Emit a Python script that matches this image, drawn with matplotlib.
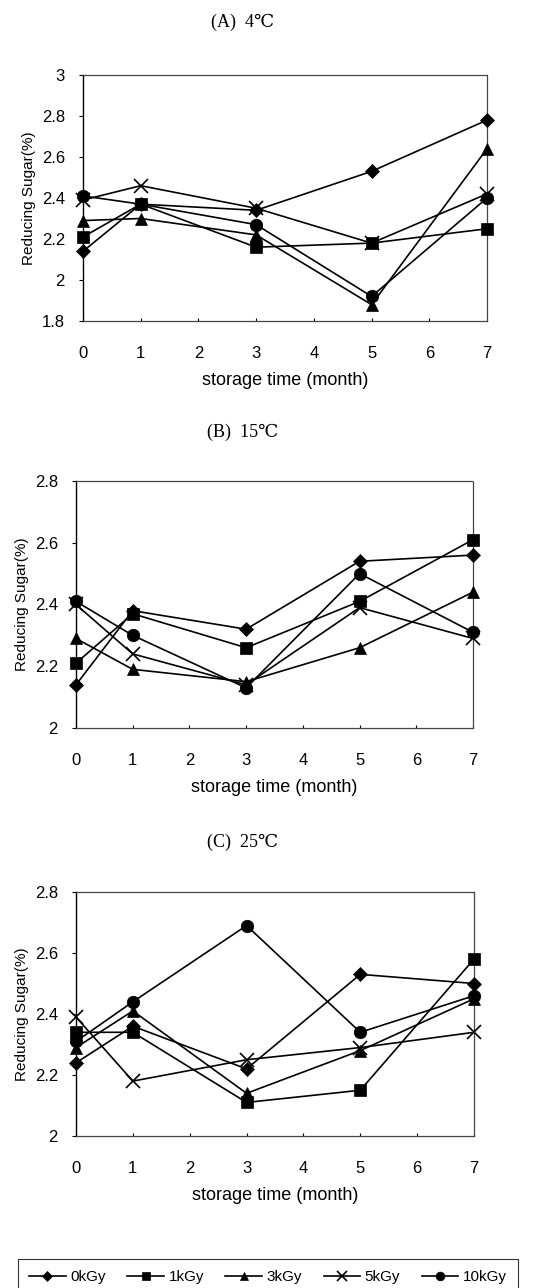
import matplotlib
matplotlib.use("Agg")
import matplotlib.pyplot as plt
from matplotlib.ticker import FuncFormatter

months = [0, 1, 3, 5, 7]
doses = ['0kGy', '1kGy', '3kGy', '5kGy', '10kGy']

# (A) 4 C
a_0kgy = [2.14, 2.37, 2.34, 2.53, 2.78]
a_1kgy = [2.21, 2.37, 2.16, 2.18, 2.25]
a_3kgy = [2.29, 2.30, 2.22, 1.88, 2.64]
a_5kgy = [2.39, 2.46, 2.35, 2.18, 2.42]
a_10kgy = [2.41, 2.37, 2.27, 1.92, 2.40]

# (B) 15 C
b_0kgy = [2.14, 2.38, 2.32, 2.54, 2.56]
b_1kgy = [2.21, 2.37, 2.26, 2.41, 2.61]
b_3kgy = [2.29, 2.19, 2.15, 2.26, 2.44]
b_5kgy = [2.40, 2.24, 2.14, 2.39, 2.29]
b_10kgy = [2.41, 2.30, 2.13, 2.50, 2.31]

# (C) 25 C
c_0kgy = [2.24, 2.36, 2.22, 2.53, 2.50]
c_1kgy = [2.34, 2.34, 2.11, 2.15, 2.58]
c_3kgy = [2.29, 2.41, 2.14, 2.28, 2.45]
c_5kgy = [2.39, 2.18, 2.25, 2.29, 2.34]
c_10kgy = [2.31, 2.44, 2.69, 2.34, 2.46]

panels = [
    ('(A)  4\u2103', [a_0kgy, a_1kgy, a_3kgy, a_5kgy, a_10kgy], (1.8, 3.0)),
    ('(B)  15\u2103', [b_0kgy, b_1kgy, b_3kgy, b_5kgy, b_10kgy], (2.0, 2.8)),
    ('(C)  25\u2103', [c_0kgy, c_1kgy, c_3kgy, c_5kgy, c_10kgy], (2.0, 2.8)),
]

# pixel boxes (left, right, top, bottom) and title y
W, H = 539, 1288
boxes = [(83, 487, 75, 321, 22), (76, 473, 481, 728, 432), (76, 474, 892, 1136, 842)]

markers = [('D', 7), ('s', 9), ('^', 9), ('x', 10), ('o', 9)]

fig = plt.figure(figsize=(W / 100, H / 100), dpi=100)

sans = ['Liberation Sans', 'DejaVu Sans']
serif = ['Liberation Serif', 'DejaVu Serif']

handles = []
for (title, series, ylim), (l, r, t, b, ty) in zip(panels, boxes):
    ax = fig.add_axes([l / W, 1 - b / H, (r - l) / W, (b - t) / H])
    for vals, (m, ms), name in zip(series, markers, doses):
        h, = ax.plot(months, vals, color='black', lw=1.2, marker=m, ms=ms,
                     mew=1.2 if m == 'x' else 0.5, mfc='black', mec='black',
                     label=name, clip_on=False, zorder=3)
        if len(handles) < 5:
            handles.append(h)
    ax.set_xlim(0, 7)
    ax.set_ylim(*ylim)
    ax.set_xticks(range(8))
    ax.set_yticks([round(ylim[0] + 0.2 * i, 1) for i in range(int(round((ylim[1] - ylim[0]) / 0.2)) + 1)])
    ax.yaxis.set_major_formatter(FuncFormatter(lambda v, p: '%g' % round(v, 1)))
    for s in ['top', 'right', 'bottom']:
        ax.spines[s].set_linestyle((0, (2, 1)))
        ax.spines[s].set_color('#444444')
        ax.spines[s].set_linewidth(0.9)
    ax.spines['left'].set_linewidth(1.0)
    ax.tick_params(axis='y', direction='out', length=3, labelsize=12, pad=10)
    ax.tick_params(axis='x', direction='in', length=2, labelsize=12, pad=18)
    for lab in ax.get_xticklabels() + ax.get_yticklabels():
        lab.set_family(sans)
    ax.set_xlabel('storage time (month)', fontsize=13, family=sans, labelpad=8)
    ax.set_ylabel('Reducing Sugar(%)', fontsize=11, family=sans, labelpad=4)
    fig.text(243 / W, 1 - ty / H, title, ha='center', va='center',
             fontsize=13, family=serif)

leg = fig.legend(handles=handles, labels=doses, loc='center',
                 bbox_to_anchor=(268 / W, 1 - 1277 / H), ncol=5, frameon=True,
                 fancybox=False, edgecolor='black', handlelength=2.4,
                 handletextpad=0.3, columnspacing=1.4, markerscale=0.7,
                 borderpad=0.7, prop={'family': sans, 'size': 11})
leg.get_frame().set_linewidth(0.8)

fig.savefig('out.png', dpi=100)
